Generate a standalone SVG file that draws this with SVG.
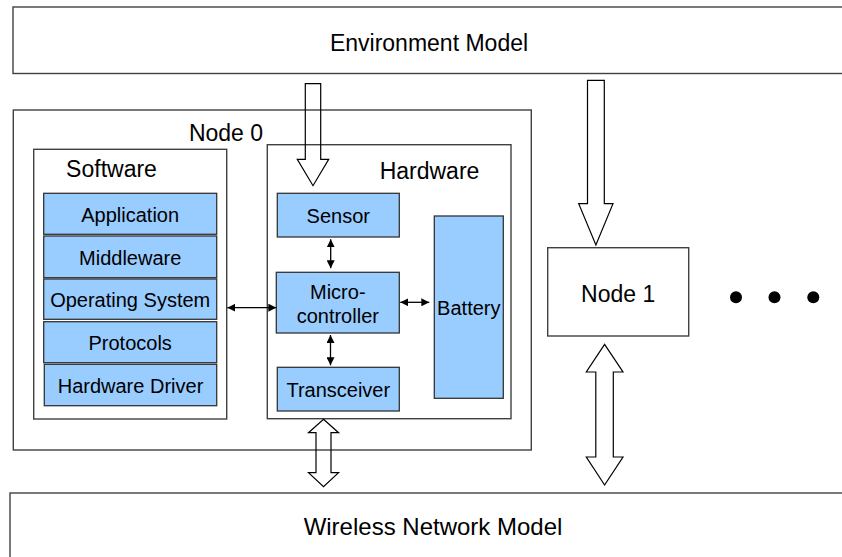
<svg xmlns="http://www.w3.org/2000/svg" width="842" height="557" viewBox="0 0 842 557">
<style>
.box{fill:#fff;stroke:#404040;stroke-width:1.4}
.blue{fill:#99ccff;stroke:#333;stroke-width:1.3}
.big{fill:none;stroke:#000;stroke-width:1.2;stroke-linejoin:miter}
.thin{fill:none;stroke:#000;stroke-width:1.3}
text{font-family:"Liberation Sans",Arial,sans-serif;fill:#000;text-anchor:middle}
.t24{font-size:24px}
.t23{font-size:23px}
.t20{font-size:20px}
</style>
<defs>
<marker id="ah" viewBox="0 0 10 10" refX="10" refY="5" markerWidth="8" markerHeight="8" markerUnits="userSpaceOnUse" orient="auto-start-reverse">
<path d="M0,0 L10,5 L0,10 Z" fill="#000"/>
</marker>
</defs>
<rect width="842" height="557" fill="#fff"/>
<g id="environment">
<rect class="box" x="13" y="7" width="840" height="66.5"/>
<text class="t23" x="429" y="50.5">Environment Model</text>
</g>
<g id="wireless">
<rect class="box" x="10" y="493" width="845" height="80"/>
<text class="t24" x="433" y="535">Wireless Network Model</text>
</g>
<g id="node0">
<rect class="box" x="13.3" y="110" width="518" height="340"/>
<text class="t23" x="226" y="141">Node 0</text>
</g>
<g id="software">
<rect class="box" x="33.7" y="149.3" width="193" height="269.7"/>
<text class="t23" x="111.5" y="177.3">Software</text>
</g>
<g id="application">
<rect class="blue" x="43.7" y="193.3" width="173" height="41"/>
<text class="t20" x="130.2" y="221.5">Application</text>
</g>
<g id="middleware">
<rect class="blue" x="43.7" y="236" width="173" height="41.7"/>
<text class="t20" x="130.2" y="264.5">Middleware</text>
</g>
<g id="os">
<rect class="blue" x="43.7" y="279" width="173" height="40.3"/>
<text class="t20" x="130.2" y="307">Operating System</text>
</g>
<g id="protocols">
<rect class="blue" x="43.7" y="321.7" width="173" height="41"/>
<text class="t20" x="130.2" y="349.5">Protocols</text>
</g>
<g id="hwdriver">
<rect class="blue" x="44.3" y="364.3" width="172.4" height="41.4"/>
<text class="t20" x="130.5" y="392.5">Hardware Driver</text>
</g>
<g id="hardware">
<rect class="box" x="267.3" y="144.7" width="243.7" height="274"/>
<text class="t23" x="429.5" y="178.5">Hardware</text>
</g>
<g id="sensor">
<rect class="blue" x="277.3" y="193.3" width="122" height="43.7"/>
<text class="t20" x="338.3" y="222.5">Sensor</text>
</g>
<g id="microcontroller">
<rect class="blue" x="276.3" y="272.3" width="123" height="60.7"/>
<text class="t20" x="337.8" y="299">Micro-</text>
<text class="t20" x="337.8" y="322.5">controller</text>
</g>
<g id="transceiver">
<rect class="blue" x="277.3" y="367.3" width="122" height="43.7"/>
<text class="t20" x="338.3" y="397">Transceiver</text>
</g>
<g id="battery">
<rect class="blue" x="434.3" y="216" width="69" height="182.3"/>
<text class="t20" x="468.8" y="315">Battery</text>
</g>
<g id="node1">
<rect class="box" x="547.7" y="247.7" width="141" height="88.3"/>
<text class="t23" x="618.2" y="302">Node 1</text>
</g>
<g id="ellipsis">
<circle cx="736" cy="297.3" r="6" fill="#000"/>
<circle cx="774.5" cy="297.3" r="6" fill="#000"/>
<circle cx="813.3" cy="297.3" r="6" fill="#000"/>
</g>
<g id="connectors">
<path class="big" d="M305.3,83.7 H320.7 V159.3 H328.7 L313,185.7 L297.3,159.3 H305.3 Z"/>
<path class="big" d="M587.5,80.3 H604.3 V203.7 H613 L595.9,245 L578.7,203.7 H587.5 Z"/>
<path class="big" d="M323.5,419.3 L338.6,432.7 H331 V472.7 H338.6 L323.5,486.7 L308.5,472.7 H316 V432.7 H308.5 Z"/>
<path class="big" d="M604.6,344.3 L623,372 H613.3 V457 H623 L604.6,485 L586.3,457 H595.8 V372 H586.3 Z"/>
<line class="thin" x1="227.3" y1="307.7" x2="276.3" y2="307.7" marker-start="url(#ah)" marker-end="url(#ah)"/>
<line class="thin" x1="330.7" y1="239.3" x2="330.7" y2="268.3" marker-start="url(#ah)" marker-end="url(#ah)"/>
<line class="thin" x1="330.5" y1="335" x2="330.5" y2="365.3" marker-start="url(#ah)" marker-end="url(#ah)"/>
<line class="thin" x1="400.3" y1="302.3" x2="429.3" y2="302.3" marker-start="url(#ah)" marker-end="url(#ah)"/>
</g>
</svg>
